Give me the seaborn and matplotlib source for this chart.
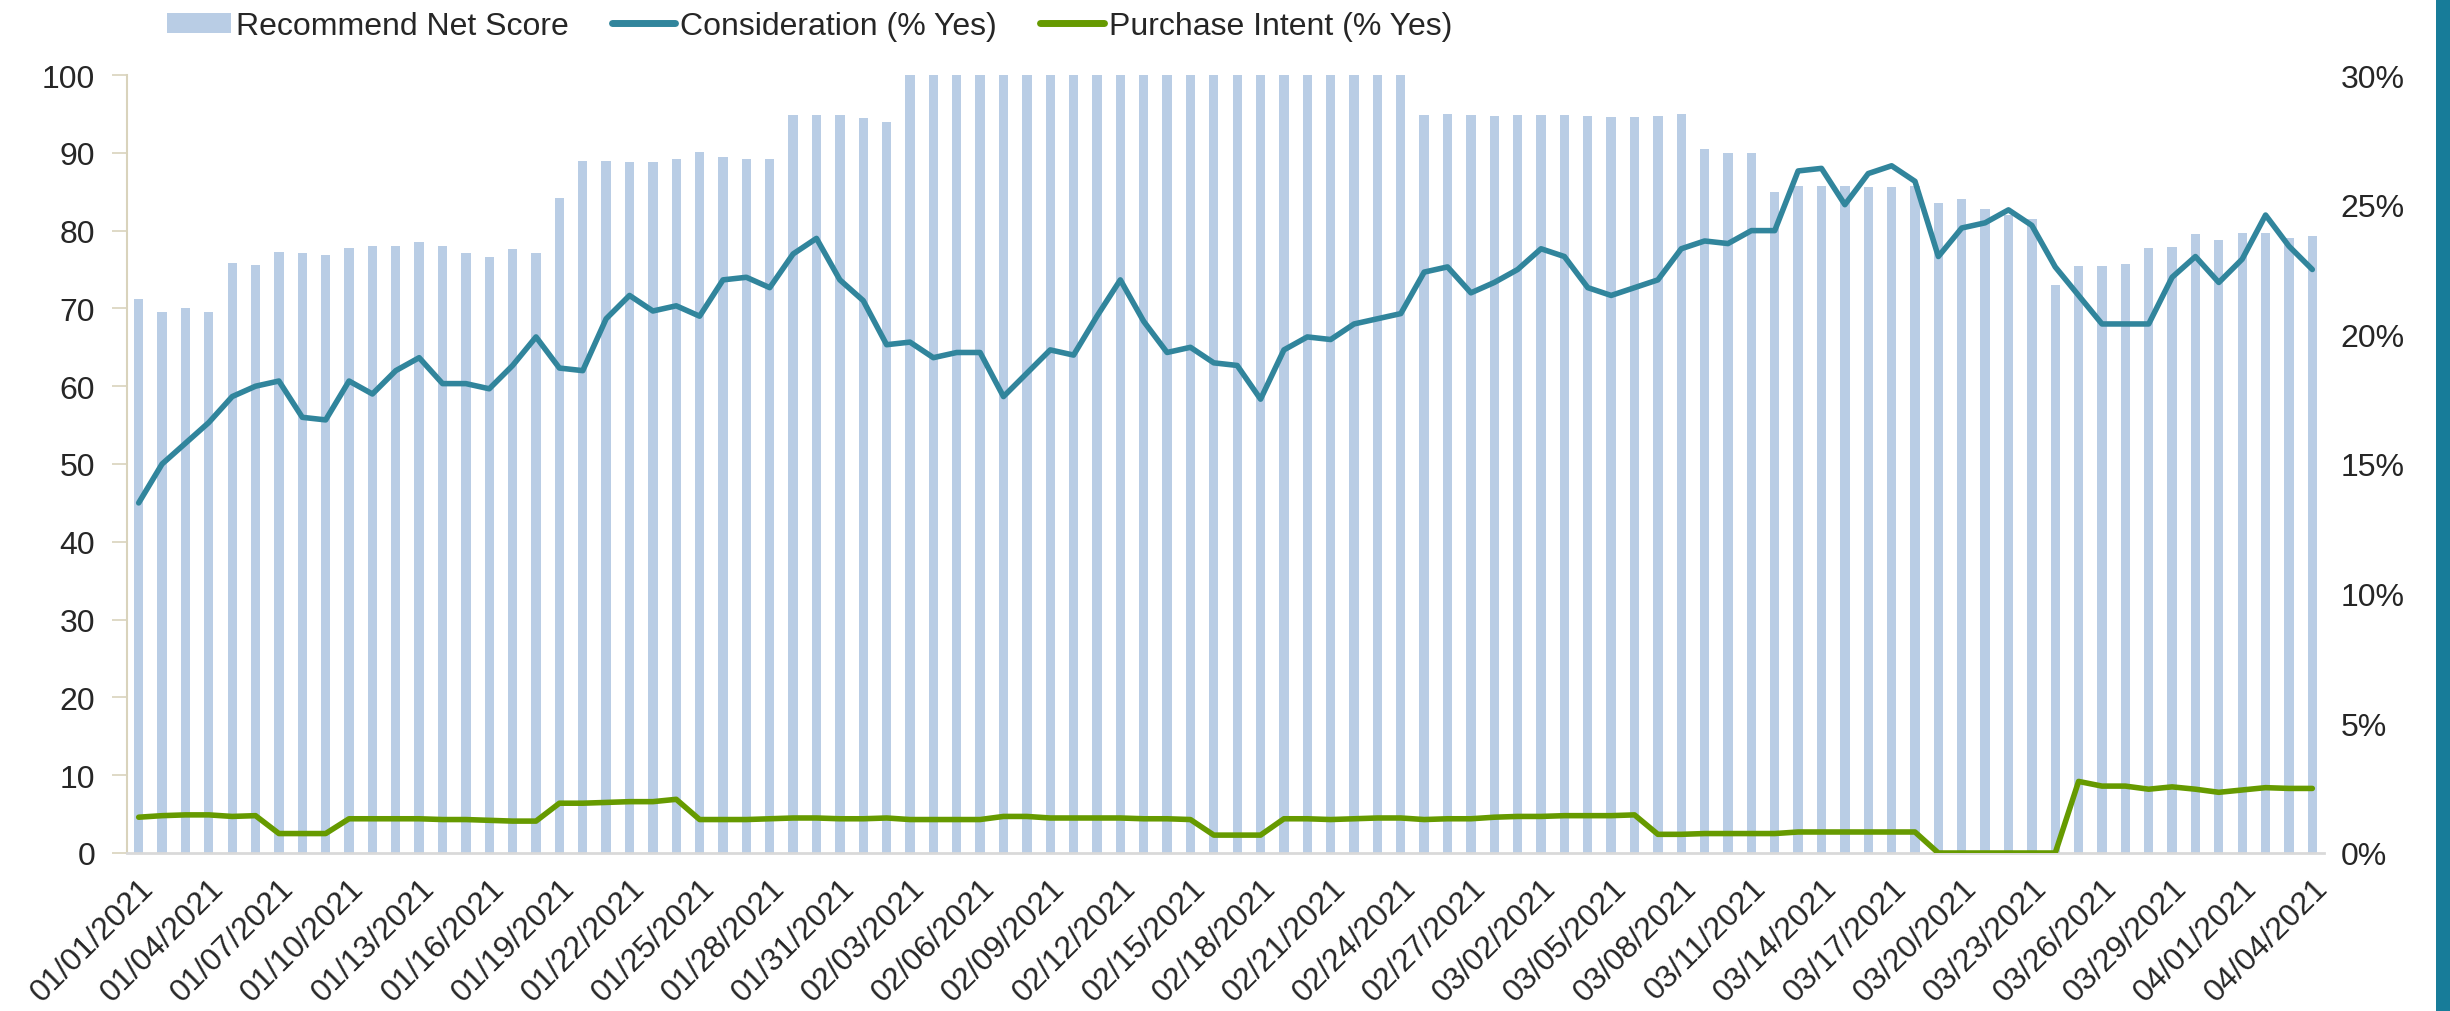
import numpy as np
import pandas as pd
import matplotlib
matplotlib.use("Agg")
import matplotlib.pyplot as plt
from matplotlib.patches import Patch, Rectangle
from matplotlib.lines import Line2D
from matplotlib.ticker import FuncFormatter, MultipleLocator
import seaborn as sns

# ---------------- data ----------------
dates = pd.date_range("2021-01-01", periods=94, freq="D").strftime("%m/%d/%Y").tolist()

recommend_net_score = [
    71.2, 69.5, 70.1, 69.6, 75.8, 75.6, 77.2, 77.1, 76.9, 77.7,
    78.0, 78.0, 78.5, 78.0, 77.1, 76.6, 77.6, 77.1, 84.2, 88.9,
    88.9, 88.8, 88.8, 89.2, 90.1, 89.5, 89.2, 89.2, 94.9, 94.9,
    94.8, 94.5, 93.9, 100, 100, 100, 100, 100, 100, 100,
    100, 100, 100, 100, 100, 100, 100, 100, 100, 100,
    100, 100, 100, 100, 100, 94.9, 95.0, 94.9, 94.7, 94.8,
    94.8, 94.9, 94.7, 94.6, 94.6, 94.7, 95.0, 90.5, 90.0, 90.0,
    85.0, 85.7, 85.7, 85.7, 85.6, 85.6, 85.7, 83.6, 84.1, 82.8,
    82.0, 81.5, 73.0, 75.5, 75.5, 75.7, 77.7, 77.9, 79.6, 78.8,
    79.7, 79.7, 79.0, 79.3,
]

consideration_pct = [
    13.5, 15.0, 15.8, 16.6, 17.6, 18.0, 18.2, 16.8, 16.7, 18.2,
    17.7, 18.6, 19.1, 18.1, 18.1, 17.9, 18.8, 19.9, 18.7, 18.6,
    20.6, 21.5, 20.9, 21.1, 20.7, 22.1, 22.2, 21.8, 23.1, 23.7,
    22.1, 21.3, 19.6, 19.7, 19.1, 19.3, 19.3, 17.6, 18.5, 19.4,
    19.2, 20.7, 22.1, 20.5, 19.3, 19.5, 18.9, 18.8, 17.5, 19.4,
    19.9, 19.8, 20.4, 20.6, 20.8, 22.4, 22.6, 21.6, 22.0, 22.5,
    23.3, 23.0, 21.8, 21.5, 21.8, 22.1, 23.3, 23.6, 23.5, 24.0,
    24.0, 26.3, 26.4, 25.0, 26.2, 26.5, 25.9, 23.0, 24.1, 24.3,
    24.8, 24.2, 22.6, 21.5, 20.4, 20.4, 20.4, 22.2, 23.0, 22.0,
    22.9, 24.6, 23.4, 22.5,
]

purchase_intent_pct = [
    1.38, 1.44, 1.47, 1.47, 1.41, 1.44, 0.75, 0.75, 0.75, 1.32,
    1.32, 1.32, 1.32, 1.29, 1.29, 1.26, 1.23, 1.23, 1.92, 1.92,
    1.95, 1.98, 1.98, 2.07, 1.29, 1.29, 1.29, 1.32, 1.35, 1.35,
    1.32, 1.32, 1.35, 1.29, 1.29, 1.29, 1.29, 1.41, 1.41, 1.35,
    1.35, 1.35, 1.35, 1.32, 1.32, 1.29, 0.69, 0.69, 0.69, 1.32,
    1.32, 1.29, 1.32, 1.35, 1.35, 1.29, 1.32, 1.32, 1.38, 1.41,
    1.41, 1.44, 1.44, 1.44, 1.47, 0.72, 0.72, 0.75, 0.75, 0.75,
    0.75, 0.81, 0.81, 0.81, 0.81, 0.81, 0.81, 0.0, 0.0, 0.0,
    0.0, 0.0, 0.0, 2.76, 2.58, 2.58, 2.46, 2.55, 2.46, 2.34,
    2.43, 2.52, 2.49, 2.49,
]

series_names = ["Recommend Net Score", "Consideration (% Yes)", "Purchase Intent (% Yes)"]

df = pd.DataFrame({
    "date": dates,
    "recommend": recommend_net_score,
    "consideration": consideration_pct,
    "purchase": purchase_intent_pct,
})
df["pos"] = np.arange(len(df))

# ---------------- style ----------------
sns.set_theme(style="white")
plt.rcParams["font.family"] = ["Liberation Sans", "DejaVu Sans"]
FS = 23

BAR_C = "#B9CDE5"
CONS_C = "#31859C"
PURCH_C = "#669A00"

W, H = 2450, 1012
fig = plt.figure(figsize=(W / 100, H / 100), dpi=100)
fig.patch.set_facecolor("white")

left_px, right_px, top_px, bot_px = 127, 2324, 76, 854
ax = fig.add_axes([left_px / W, 1 - bot_px / H, (right_px - left_px) / W, (bot_px - top_px) / H])

sns.barplot(data=df, x="date", y="recommend", color=BAR_C, saturation=1,
            width=0.4, ax=ax, edgecolor="none")
ax.set_xlim(-0.5, len(df) - 0.5)
ax.set_ylim(0, 100)
ax.yaxis.set_major_locator(MultipleLocator(10))
ax.set_xlabel("")
ax.set_ylabel("")

tick_pos = list(range(0, len(df), 3))
ax.set_xticks(tick_pos)
ax.set_xticklabels([dates[i] for i in tick_pos], rotation=45, ha="right",
                   va="top", rotation_mode="anchor", fontsize=FS)
ax.tick_params(axis="x", length=0, pad=14)
ax.tick_params(axis="y", left=True, length=11, width=1.2, color="#D9D3BC",
               direction="out", pad=12, labelsize=FS)

for s in ["top", "right"]:
    ax.spines[s].set_visible(False)
ax.spines["left"].set_color("#D9D3BC")
ax.spines["left"].set_linewidth(1.5)
ax.spines["bottom"].set_color("#D9D9D9")
ax.spines["bottom"].set_linewidth(2)

ax2 = ax.twinx()
sns.lineplot(data=df, x="pos", y="consideration", ax=ax2, color=CONS_C,
             linewidth=4.0, sort=False, legend=False)
sns.lineplot(data=df, x="pos", y="purchase", ax=ax2, color=PURCH_C,
             linewidth=4.0, sort=False, legend=False)
ax2.set_ylim(0, 30)
ax2.yaxis.set_major_locator(MultipleLocator(5))
ax2.yaxis.set_major_formatter(FuncFormatter(lambda v, p: f"{v:.0f}%"))
ax2.set_xlabel("")
ax2.set_ylabel("")
ax2.tick_params(axis="y", right=True, length=0, pad=12, labelsize=FS)
for s in ["top", "right", "left", "bottom"]:
    ax2.spines[s].set_visible(False)
ax.set_xlim(-0.5, len(df) - 0.5)

# legend
handles = [
    Patch(facecolor=BAR_C, edgecolor="none"),
    Line2D([0], [0], color=CONS_C, linewidth=5),
    Line2D([0], [0], color=PURCH_C, linewidth=5),
]
fig.legend(handles, series_names, loc="center left",
           bbox_to_anchor=(167 / W, 1 - 27 / H), ncol=3, frameon=False,
           fontsize=FS, borderaxespad=0, borderpad=0, handlelength=2.0,
           handleheight=0.6, handletextpad=0.15, columnspacing=1.35)

# decorative teal stripe at the right edge
fig.patches.append(Rectangle((2436 / W, 0), 14 / W, 1, transform=fig.transFigure,
                             facecolor="#177C99", edgecolor="none", zorder=-1))

fig.savefig("out.png", dpi=100, facecolor="white")
